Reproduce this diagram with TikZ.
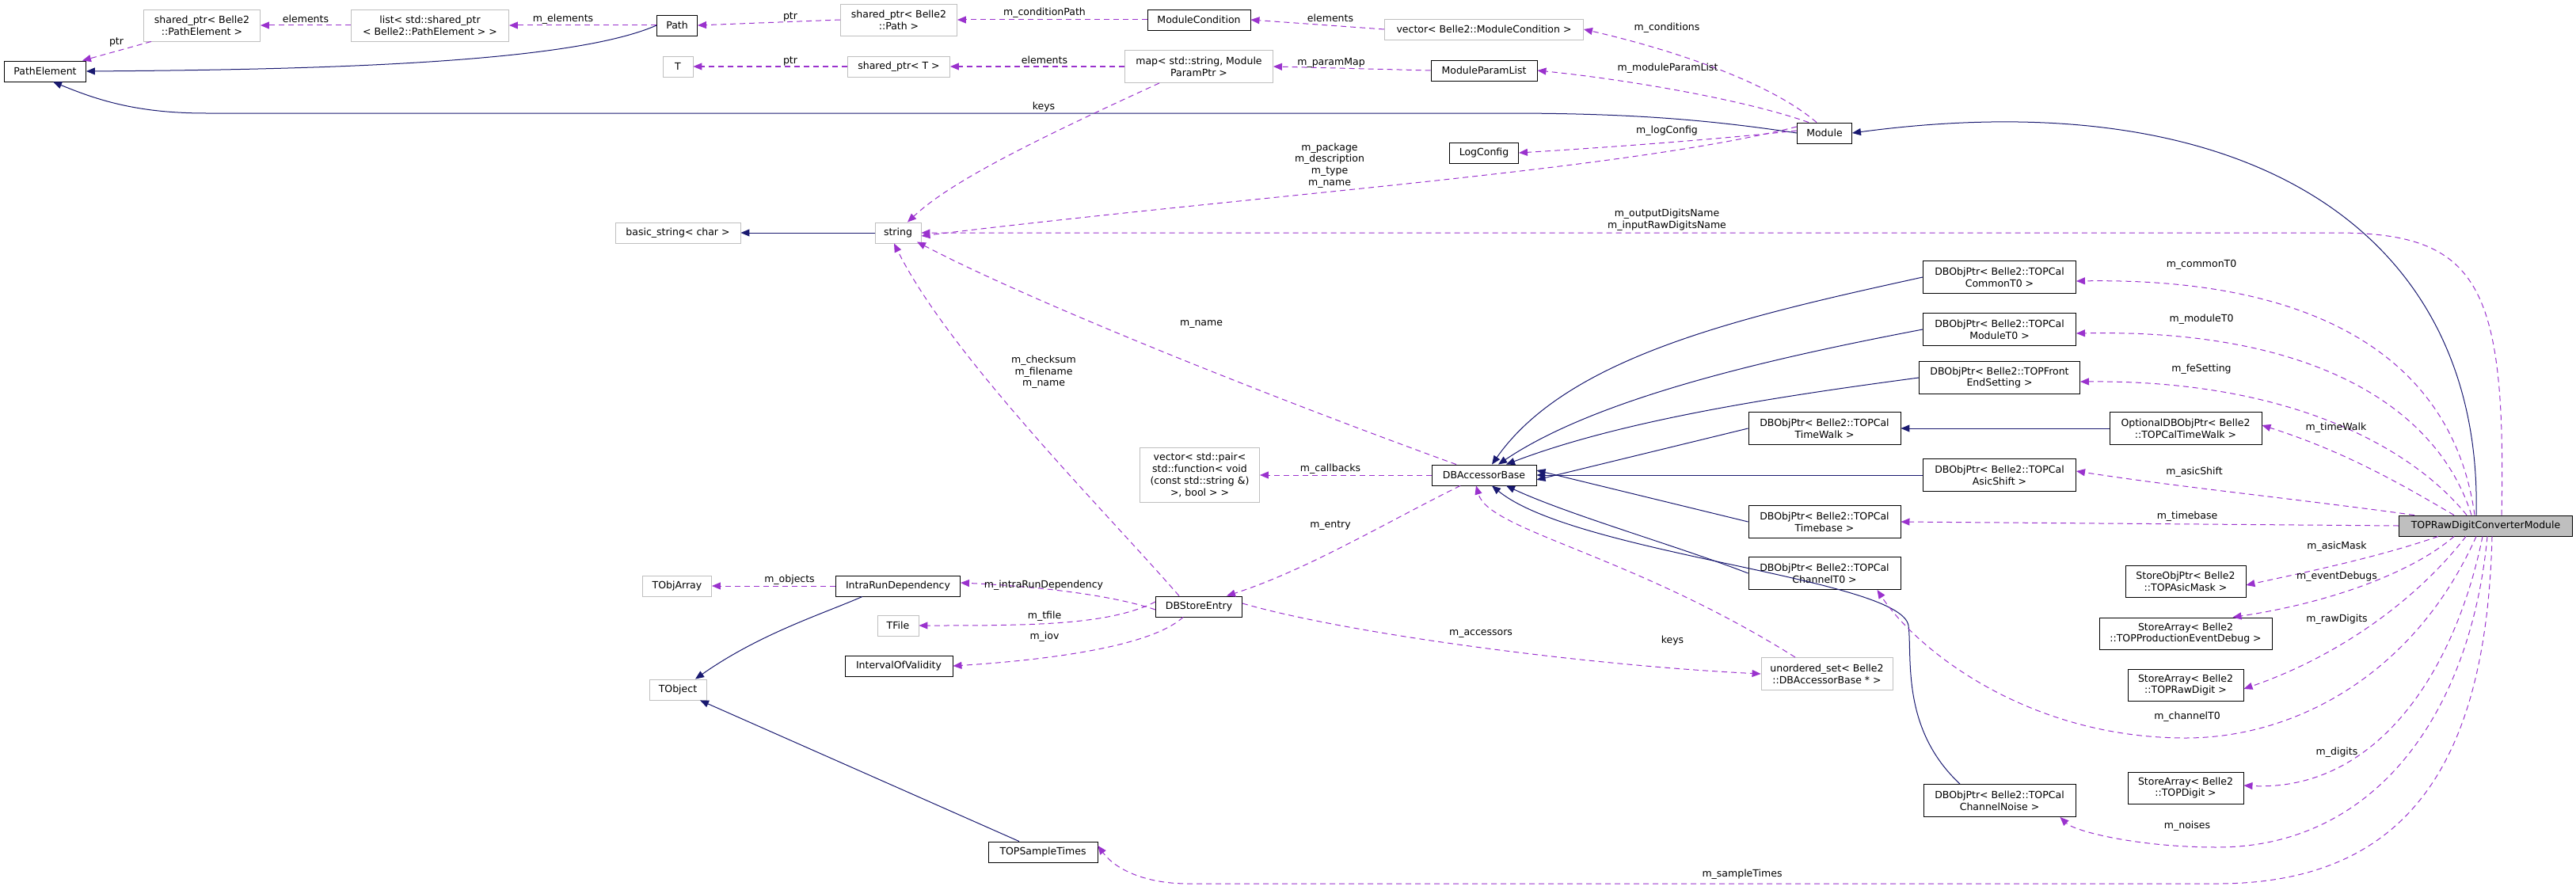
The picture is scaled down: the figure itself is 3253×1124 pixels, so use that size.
\documentclass[tikz,border=0pt]{standalone}
\usepackage{fontspec}
\setmainfont{DejaVu Sans}
\usetikzlibrary{arrows.meta}
\definecolor{usec}{HTML}{9A32CD}
\definecolor{inhc}{HTML}{191970}
\definecolor{grayb}{HTML}{BFBFBF}
\begin{document}
\begin{tikzpicture}[x=1pt,y=-1pt,
  every node/.style={font=\fontsize{12.5}{14.7}\selectfont, inner sep=0pt, align=center},
  bx/.style={draw=black, line width=0.9pt, minimum height=26pt, fill=white},
  gb/.style={draw=grayb, line width=0.9pt, minimum height=26pt, fill=white},
  use/.style={draw=usec, line width=1pt, dash pattern=on 7pt off 5pt, -{Triangle[length=11pt,width=9pt]}},
  inh/.style={draw=inhc, line width=1pt, -{Triangle[length=11pt,width=9pt]}},
  lbl/.style={}]
\useasboundingbox (0,0) rectangle (3253,1124);
% nodes
\node[bx, minimum width=103pt] (pe) at (57,90) {PathElement};
\node[gb, minimum width=147pt, minimum height=40pt] (spe) at (255,32) {shared\_ptr< Belle2\\::PathElement >};
\node[gb, minimum width=199pt, minimum height=40pt] (lst) at (543,32) {list< std::shared\_ptr\\< Belle2::PathElement > >};
\node[bx, minimum width=51pt] (path) at (855,32) {Path};
\node[gb, minimum width=38pt] (T) at (856,84) {T};
\node[gb, minimum width=158pt] (bstr) at (856,294) {basic\_string< char >};
\node[gb, minimum width=147pt, minimum height=40pt] (sppath) at (1135,25) {shared\_ptr< Belle2\\::Path >};
\node[bx, minimum width=130pt] (mc) at (1514,25) {ModuleCondition};
\node[gb, minimum width=251pt] (vmc) at (1874,37) {vector< Belle2::ModuleCondition >};
\node[gb, minimum width=129pt] (spt) at (1135,84) {shared\_ptr< T >};
\node[gb, minimum width=187pt, minimum height=41pt] (map) at (1514,84) {map< std::string, Module\\ParamPtr >};
\node[bx, minimum width=134pt] (mpl) at (1874,89) {ModuleParamList};
\node[bx, minimum width=87pt] (log) at (1874,193) {LogConfig};
\node[bx, minimum width=69pt] (mod) at (2304,168) {Module};
\node[gb, minimum width=58pt] (str) at (1134,294) {string};
\node[gb, minimum width=151pt, minimum height=69pt] (vpair) at (1515,600) {vector< std::pair<\\ std::function< void\\(const std::string \&)\\>, bool > >};
\node[bx, minimum width=132pt] (dba) at (1874,600) {DBAccessorBase};
\node[bx, minimum width=193pt, minimum height=41pt] (ct0) at (2525,350) {DBObjPtr< Belle2::TOPCal\\CommonT0 >};
\node[bx, minimum width=193pt, minimum height=41pt] (mt0) at (2525,416) {DBObjPtr< Belle2::TOPCal\\ModuleT0 >};
\node[bx, minimum width=203pt, minimum height=41pt] (fes) at (2525,477) {DBObjPtr< Belle2::TOPFront\\EndSetting >};
\node[bx, minimum width=192pt, minimum height=41pt] (tw) at (2304,541) {DBObjPtr< Belle2::TOPCal\\TimeWalk >};
\node[bx, minimum width=192pt, minimum height=41pt] (otw) at (2760,541) {OptionalDBObjPtr< Belle2\\::TOPCalTimeWalk >};
\node[bx, minimum width=193pt, minimum height=41pt] (as) at (2525,600) {DBObjPtr< Belle2::TOPCal\\AsicShift >};
\node[bx, minimum width=192pt, minimum height=41pt] (tb) at (2304,659) {DBObjPtr< Belle2::TOPCal\\Timebase >};
\node[bx, minimum width=192pt, minimum height=41pt] (cht0) at (2304,724) {DBObjPtr< Belle2::TOPCal\\ChannelT0 >};
\node[gb, minimum width=166pt, minimum height=41pt] (uset) at (2307,851) {unordered\_set< Belle2\\::DBAccessorBase * >};
\node[bx, minimum width=192pt, minimum height=41pt] (chn) at (2525,1011) {DBObjPtr< Belle2::TOPCal\\ChannelNoise >};
\node[bx, minimum width=219pt, fill=grayb] (top) at (3139,664) {TOPRawDigitConverterModule};
\node[bx, minimum width=152pt, minimum height=40pt] (amask) at (2760,734) {StoreObjPtr< Belle2\\::TOPAsicMask >};
\node[bx, minimum width=218pt, minimum height=40pt] (edbg) at (2760,800) {StoreArray< Belle2\\::TOPProductionEventDebug >};
\node[bx, minimum width=146pt, minimum height=40pt] (rawd) at (2760,865) {StoreArray< Belle2\\::TOPRawDigit >};
\node[bx, minimum width=146pt, minimum height=40pt] (dig) at (2760,995) {StoreArray< Belle2\\::TOPDigit >};
\node[gb, minimum width=87pt] (toa) at (855,740) {TObjArray};
\node[bx, minimum width=157pt] (ird) at (1134,740) {IntraRunDependency};
\node[gb, minimum width=52pt] (tfile) at (1134,790) {TFile};
\node[bx, minimum width=136pt] (iov) at (1135,841) {IntervalOfValidity};
\node[gb, minimum width=72pt] (tobj) at (856,871) {TObject};
\node[bx, minimum width=109pt] (dbse) at (1514,766) {DBStoreEntry};
\node[bx, minimum width=138pt] (tst) at (1317,1076) {TOPSampleTimes};
% inheritance
\draw[inh] (path.west) .. controls (720,80) and (400,88) .. (pe.east);
\draw[inh] (mod.west) .. controls (2150,150) and (2050,143) .. (1900,143) -- (260,143) .. controls (170,143) and (120,125) .. ([xshift=10pt]pe.south);
\draw[inh] (str.west) -- (bstr.east);
\draw[inh] ([xshift=-45pt]ird.south) .. controls (1040,775) and (960,800) .. ([xshift=22pt]tobj.north);
\draw[inh] ([xshift=-30pt]tst.north) -- ([xshift=28pt]tobj.south);
\draw[inh] ([xshift=-12pt]top.north) .. controls (3135,300) and (2850,100) .. (mod.east);
\draw[inh] (ct0.west) .. controls (2200,400) and (1980,450) .. ([xshift=10pt]dba.north);
\draw[inh] (mt0.west) .. controls (2250,450) and (2020,500) .. ([xshift=18pt]dba.north);
\draw[inh] (fes.west) .. controls (2250,500) and (2050,530) .. ([xshift=28pt]dba.north);
\draw[inh] (tw.west) -- ([yshift=-6pt]dba.east);
\draw[inh] (as.west) -- (dba.east);
\draw[inh] (tb.west) -- ([yshift=6pt]dba.east);
\draw[inh] (cht0.west) .. controls (2120,690) and (1980,650) .. ([xshift=28pt]dba.south);
\draw[inh] ([xshift=-50pt]chn.north) .. controls (2400,920) and (2415,830) .. (2410,790) .. controls (2400,730) and (1990,700) .. ([xshift=10pt]dba.south);
\draw[inh] (otw.west) -- (tw.east);
% usage
\draw[use] ([xshift=10pt]spe.south west) -- ([xshift=-5pt]pe.north east);
\draw[use] (lst.west) -- (spe.east);
\draw[use] (path.west) -- (lst.east);
\draw[use] (sppath.west) -- (path.east);
\draw[use] (mc.west) -- (sppath.east);
\draw[use] (vmc.west) -- (mc.east);
\draw[use] ([xshift=-10pt]mod.north) .. controls (2230,100) and (2100,60) .. (vmc.east);
\draw[use] ([xshift=-20pt]mod.north) .. controls (2200,125) and (2050,100) .. (mpl.east);
\draw[use] (spt.west) -- (T.east);
\draw[use] (map.west) -- (spt.east);
\draw[use] (mpl.west) -- (map.east);
\draw[use] ([xshift=-50pt]map.south) .. controls (1300,180) and (1200,230) .. ([xshift=12pt]str.north);
\draw[use] ([yshift=3pt]mod.west) .. controls (2150,178) and (2000,188) .. (log.east);
\draw[use] ([yshift=8pt]mod.west) .. controls (2050,215) and (1600,245) .. ([yshift=-4pt]str.east);
\draw[use] ([xshift=20pt]top.north) .. controls (3165,360) and (3130,294) .. (2950,294) -- (str.east);
\draw[use] ([xshift=-35pt]dba.north) .. controls (1600,500) and (1300,380) .. ([xshift=24pt,yshift=2pt]str.south);
\draw[use] ([xshift=-25pt]dbse.north) .. controls (1400,650) and (1200,450) .. ([xshift=-5pt]str.south);
\draw[use] (dba.west) -- (vpair.east);
\draw[use] ([xshift=-30pt]dba.south) .. controls (1750,660) and (1650,720) .. ([xshift=35pt]dbse.north);
\draw[use] ([yshift=-4pt]dbse.west) .. controls (1400,750) and (1300,740) .. ([yshift=4pt]ird.east);
\draw[use] (ird.west) -- (toa.east);
\draw[use] ([yshift=6pt]dbse.west) .. controls (1400,790) and (1300,790) .. (tfile.east);
\draw[use] ([xshift=-20pt]dbse.south) .. controls (1450,820) and (1300,835) .. (iov.east);
\draw[use] ([yshift=4pt]dbse.east) .. controls (1700,800) and (2000,840) .. (uset.west);
\draw[use] ([xshift=-40pt]uset.north) .. controls (2060,700) and (1880,670) .. ([xshift=-10pt]dba.south);
% fan from TOPRaw
\draw[use] ([xshift=-14pt]top.north) .. controls (3100,470) and (2950,350) .. ([yshift=-5pt]ct0.east);
\draw[use] ([xshift=-18pt]top.north) .. controls (3080,520) and (2930,415) .. ([yshift=-5pt]mt0.east);
\draw[use] ([xshift=-24pt]top.north) .. controls (3050,570) and (2900,480) .. ([yshift=-5pt]fes.east);
\draw[use] ([xshift=-40pt]top.north) .. controls (3030,610) and (2960,570) .. ([yshift=4pt]otw.east);
\draw[use] ([xshift=-90pt]top.north) .. controls (2900,630) and (2750,615) .. ([yshift=5pt]as.east);
\draw[use] (top.west) -- (tb.east);
\draw[use] ([xshift=-60pt]top.south) .. controls (3000,705) and (2900,725) .. ([yshift=-5pt]amask.east);
\draw[use] ([xshift=-40pt]top.south) .. controls (3050,720) and (2950,760) .. ([xshift=-50pt]edbg.north east);
\draw[use] ([xshift=-25pt]top.south) .. controls (3050,760) and (2950,830) .. ([yshift=-5pt]rawd.east);
\draw[use] ([xshift=-12pt]top.south) .. controls (3050,850) and (2900,932) .. (2760,932) .. controls (2560,932) and (2420,820) .. ([xshift=-30pt]cht0.south east);
\draw[use] ([xshift=-4pt]top.south) .. controls (3100,850) and (3000,1000) .. ([yshift=3pt]dig.east);
\draw[use] ([xshift=2pt]top.south) .. controls (3120,900) and (3000,1070) .. (2800,1070) .. controls (2700,1070) and (2620,1050) .. ([xshift=-20pt]chn.south east);
\draw[use] ([xshift=8pt]top.south) .. controls (3140,950) and (3050,1116) .. (2800,1116) -- (1500,1116) .. controls (1450,1116) and (1410,1100) .. ([yshift=8pt]tst.east);
% labels
\node[lbl] (l1) at (147,53) {ptr};
\node[lbl] (l2) at (386,24) {elements};
\node[lbl] (l3) at (711,24) {m\_elements};
\node[lbl] (l4) at (998,21) {ptr};
\node[lbl] (l5) at (998,77) {ptr};
\node[lbl] (l6) at (1319,16) {m\_conditionPath};
\node[lbl] (l7) at (1680,23) {elements};
\node[lbl] (l8) at (1319,76) {elements};
\node[lbl] (l9) at (1681,79) {m\_paramMap};
\node[lbl] (l10) at (1318,135) {keys};
\node[lbl] (l11) at (2105,35) {m\_conditions};
\node[lbl] (l12) at (2106,86) {m\_moduleParamList};
\node[lbl] (l13) at (2105,165) {m\_logConfig};
\node[lbl] (l14) at (1679,209) {m\_package\\m\_description\\m\_type\\m\_name};
\node[lbl] (l15) at (2105,278) {m\_outputDigitsName\\m\_inputRawDigitsName};
\node[lbl] (l16) at (1517,409) {m\_name};
\node[lbl] (l17) at (1318,470) {m\_checksum\\m\_filename\\m\_name};
\node[lbl] (l18) at (1680,592) {m\_callbacks};
\node[lbl] (l19) at (1680,664) {m\_entry};
\node[lbl] (l20) at (997,732) {m\_objects};
\node[lbl] (l21) at (1318,739) {m\_intraRunDependency};
\node[lbl] (l22) at (1319,778) {m\_tfile};
\node[lbl] (l23) at (1319,804) {m\_iov};
\node[lbl] (l24) at (1870,800) {m\_accessors};
\node[lbl] (l25) at (2112,809) {keys};
\node[lbl] (l26) at (2780,334) {m\_commonT0};
\node[lbl] (l27) at (2780,403) {m\_moduleT0};
\node[lbl] (l28) at (2780,466) {m\_feSetting};
\node[lbl] (l29) at (2950,540) {m\_timeWalk};
\node[lbl] (l30) at (2771,596) {m\_asicShift};
\node[lbl] (l31) at (2762,652) {m\_timebase};
\node[lbl] (l32) at (2951,690) {m\_asicMask};
\node[lbl] (l33) at (2951,728) {m\_eventDebugs};
\node[lbl] (l34) at (2951,782) {m\_rawDigits};
\node[lbl] (l35) at (2762,905) {m\_channelT0};
\node[lbl] (l36) at (2951,950) {m\_digits};
\node[lbl] (l37) at (2762,1043) {m\_noises};
\node[lbl] (l38) at (2200,1104) {m\_sampleTimes};
\end{tikzpicture}
\end{document}
